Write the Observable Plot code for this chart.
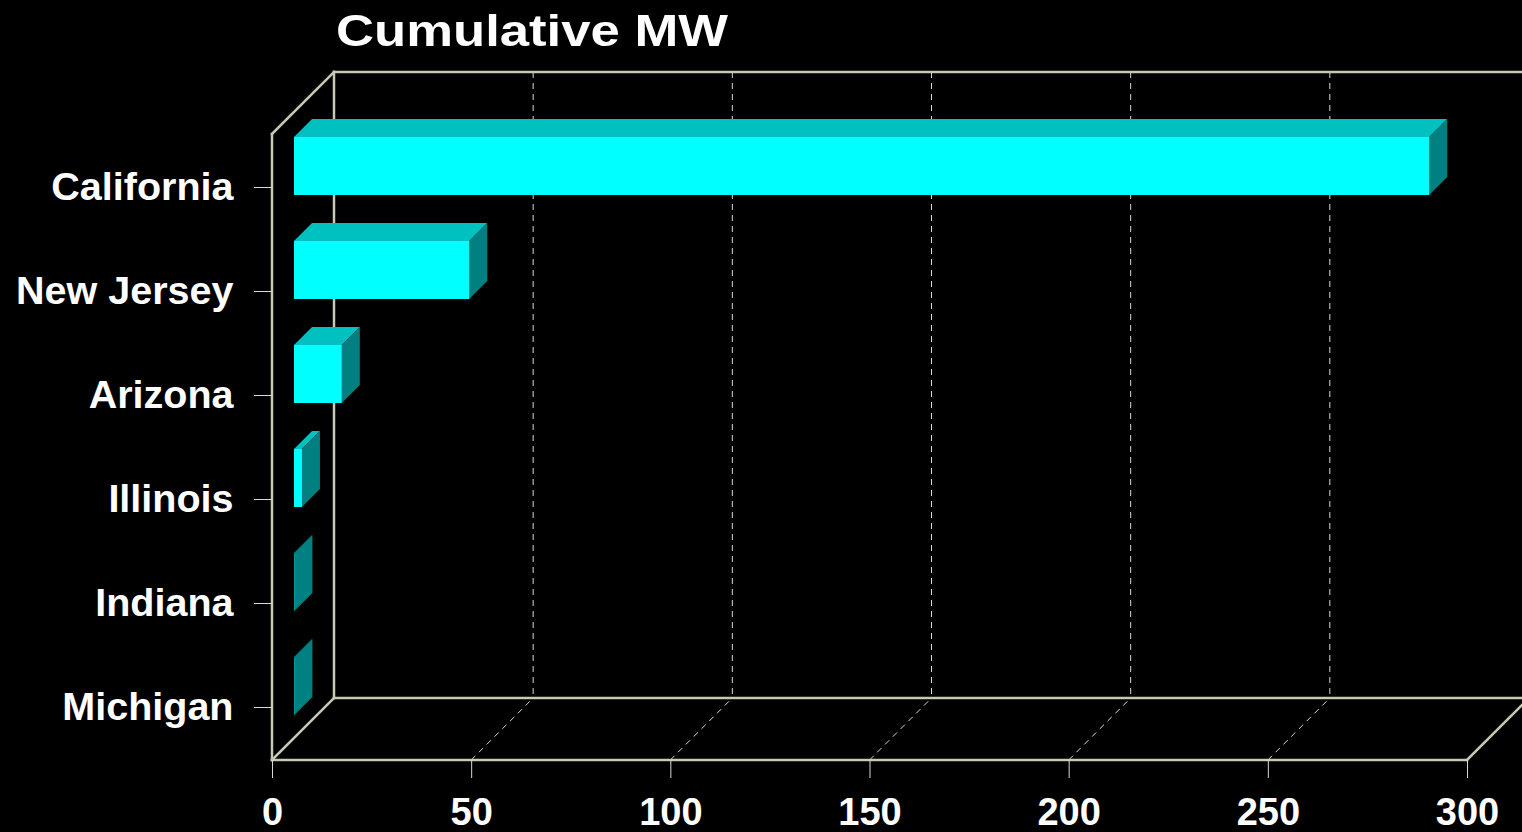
<!DOCTYPE html>
<html><head><meta charset="utf-8">
<script src="https://cdn.jsdelivr.net/npm/d3@7"></script>
<script src="https://cdn.jsdelivr.net/npm/@observablehq/plot@0.6"></script>
<style>
html,body{margin:0;padding:0;background:#000;overflow:hidden;}
#wrap{position:relative;width:1522px;height:832px;}
#title{position:absolute;left:336px;top:8px;font:bold 45px "Liberation Sans",Arial,sans-serif;color:#fff;line-height:1;transform-origin:0 0;white-space:nowrap;z-index:2;}
#chart{position:absolute;left:0;top:0;}
</style></head>
<body><div id="wrap"><div id="title">Cumulative MW</div><div id="chart"></div></div>
<script>
const states = ["California", "New Jersey", "Arizona", "Illinois", "Indiana", "Michigan"];
const mw = [285, 44, 12, 2, 0.1, 0.1];
const xTicks = [0, 50, 100, 150, 200, 250, 300];
const gridTicks = [50, 100, 150, 200, 250];
const data = states.map((s, i) => ({state: s, mw: mw[i]}));

const WALL = 62;      // depth of the 3D box (px)
const OFFX = 22, OFFY = 21; // bar placement inside depth
const BD = 18;        // bar depth
const wallColor = "#c8c8b4";
const gridColor = "#d8d8d8";

function walls(index, scales, values, dims) {
  const x = scales.x;
  const top = dims.marginTop, bot = dims.height - dims.marginBottom;
  const x0 = x(0), x1 = x(300);
  const g = d3.create("svg:g");
  for (const t of gridTicks) {
    const xt = x(t);
    g.append("line").attr("x1", xt + WALL).attr("x2", xt + WALL).attr("y1", top - WALL).attr("y2", bot - WALL)
      .attr("stroke", gridColor).attr("stroke-width", 1).attr("stroke-dasharray", "6,5");
    g.append("line").attr("x1", xt).attr("y1", bot).attr("x2", xt + WALL).attr("y2", bot - WALL)
      .attr("stroke", gridColor).attr("stroke-width", 1).attr("stroke-dasharray", "6,5");
  }
  const seg = (a, b, c, d) => g.append("line").attr("x1", a).attr("y1", b).attr("x2", c).attr("y2", d)
      .attr("stroke", wallColor).attr("stroke-width", 2.5).attr("stroke-linecap", "square");
  seg(x0, top, x0, bot);
  seg(x0, top, x0 + WALL, top - WALL);
  seg(x0, bot, x0 + WALL, bot - WALL);
  seg(x0 + WALL, top - WALL, x0 + WALL, bot - WALL);
  seg(x0 + WALL, top - WALL, x1 + WALL, top - WALL);
  seg(x0 + WALL, bot - WALL, x1 + WALL, bot - WALL);
  seg(x0, bot, x1, bot);
  seg(x1, bot, x1 + WALL, bot - WALL);
  return g.node();
}

function barFaces(index, scales, values, dims) {
  const x = scales.x, y = scales.y;
  const step = y(states[1]) - y(states[0]);
  const g = d3.create("svg:g");
  const inset = 23;
  states.forEach((s, i) => {
    const fx0 = x(0) + OFFX, fx1 = x(mw[i]) + OFFX;
    const fy0 = y(s) + inset - OFFY, fy1 = y(s) + step - inset - OFFY;
    g.append("polygon")
      .attr("points", [[fx0, fy0], [fx1, fy0], [fx1 + BD, fy0 - BD], [fx0 + BD, fy0 - BD]].join(" "))
      .attr("fill", "#00c0c0");
    g.append("polygon")
      .attr("points", [[fx1, fy0], [fx1 + BD, fy0 - BD], [fx1 + BD, fy1 - BD], [fx1, fy1]].join(" "))
      .attr("fill", "#008080");
  });
  return g.node();
}

const chart = Plot.plot({
  width: 1522,
  height: 832,
  marginLeft: 272,
  marginRight: 55,
  marginTop: 134,
  marginBottom: 72,
  style: {background: "#000", color: "#fff", fontFamily: "'Liberation Sans', Arial, sans-serif", fontWeight: "bold", overflow: "hidden"},
  x: {domain: [0, 300]},
  y: {domain: states, type: "band", padding: 0},
  marks: [
    walls,
    barFaces,
    Plot.rectX(data, {y: "state", x1: 0, x2: "mw", dx: OFFX, dy: -OFFY, insetTop: 23, insetBottom: 23, fill: "#00ffff"}),
    Plot.axisX({ticks: xTicks, tickSize: 18, tickPadding: 20, fontSize: 38, fontWeight: "bold", stroke: gridColor, fill: "#fff", label: null, tickFormat: d => String(d)}),
    Plot.axisY({tickSize: 18, tickPadding: 21, fontSize: 39.5, fontWeight: "bold", stroke: gridColor, fill: "#fff", label: null})
  ]
});
document.getElementById("chart").appendChild(chart);

const title = document.getElementById("title");
const w = title.getBoundingClientRect().width;
title.style.transform = `scaleX(${392 / w})`;
</script>
</body></html>
